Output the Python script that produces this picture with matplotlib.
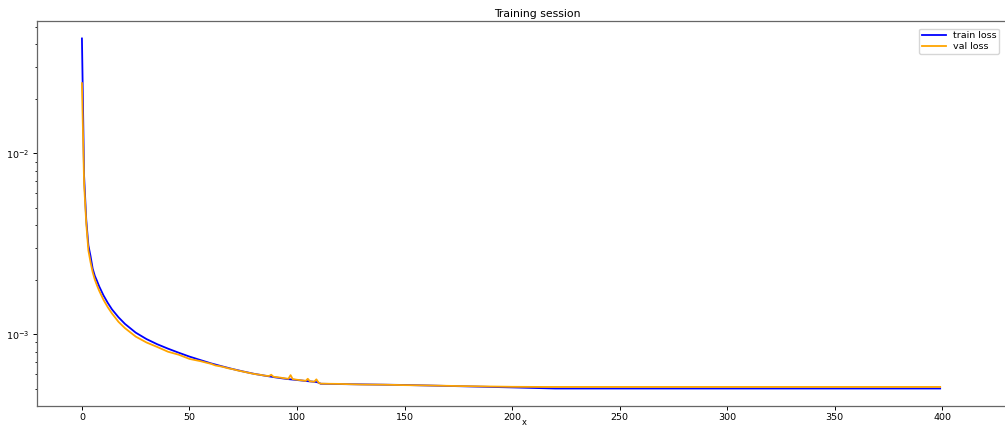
'''Training vs validation loss, log scale
'''
import numpy as np
import matplotlib.pyplot as plt
from matplotlib.ticker import MultipleLocator

train_epochs = [0, 1, 2, 3, 4, 5, 6, 7, 8, 10, 12, 14, 17, 20, 25, 30, 35, 40, 45,
                50, 55, 60, 65, 70, 75, 80, 85, 90, 95, 100, 105, 109, 110, 111,
                120, 150, 175, 200, 220, 399]
train_loss = [0.0431, 0.0075, 0.0043, 0.0031, 0.0027, 0.0023, 0.0021, 0.00197, 0.00184,
              0.00164, 0.00149, 0.00137, 0.00124, 0.00114, 0.00102, 0.00094, 0.00088,
              0.000832, 0.000790, 0.000752, 0.000720, 0.000690, 0.000665, 0.000642,
              0.000622, 0.000604, 0.000590, 0.000577, 0.000566, 0.000558, 0.000550,
              0.000544, 0.000540, 0.000532, 0.000530, 0.000524, 0.000516, 0.000508,
              0.000501, 0.000501]

val_epochs = [0, 1, 2, 3, 4, 5, 6, 7, 8, 10, 12, 14, 17, 20, 25, 30, 35, 40, 45,
              50, 55, 58, 60, 62, 65, 68, 70, 73, 75, 78, 80, 83, 85, 87, 88, 89,
              92, 94, 96, 97, 98, 100, 102, 104, 105, 106, 108, 109, 110, 111,
              115, 120, 130, 140, 150, 160, 175, 190, 200, 215, 399]
val_loss = [0.0244, 0.0068, 0.0041, 0.0029, 0.0025, 0.0022, 0.0020, 0.00186, 0.00174,
            0.00155, 0.00141, 0.00130, 0.00117, 0.00108, 0.00097, 0.00090, 0.00085,
            0.00080, 0.00077, 0.00073, 0.000710, 0.000695, 0.000686, 0.000672,
            0.000662, 0.000648, 0.000641, 0.000628, 0.000621, 0.000610, 0.000603,
            0.000596, 0.000590, 0.000587, 0.000597, 0.000582, 0.000576, 0.000571,
            0.000567, 0.000594, 0.000564, 0.000560, 0.000556, 0.000552, 0.000567,
            0.000549, 0.000546, 0.000563, 0.000540, 0.000533, 0.000532, 0.000531,
            0.000527, 0.000526, 0.000523, 0.000521, 0.000517, 0.000514, 0.000512,
            0.000511, 0.000511]


def plot_losses(path='out.png'):
    fig = plt.figure(figsize=(10.05, 4.25), dpi=100)
    # the original is cropped on the right, so the axes runs past the edge
    ax = fig.add_axes([0.0368, 0.0447, 0.995, 0.906])
    ax.plot(train_epochs, train_loss, color='blue', lw=1.3, label='train loss')
    ax.plot(val_epochs, val_loss, color='orange', lw=1.3, label='val loss')
    ax.set_yscale('log')
    ax.set_xlim(-20.9, 444)
    ax.xaxis.set_major_locator(MultipleLocator(50))
    ax.set_title('Training session', fontsize=7.8, pad=3)
    ax.set_xlabel('x', fontsize=6)
    # pulled up a bit so it stays inside the picture
    ax.xaxis.set_label_coords(0.487, -0.03)
    ax.tick_params(labelsize=6.8, length=2.8, width=0.7, pad=2.5)
    ax.tick_params(which='minor', length=1.6, width=0.6)
    for s in ax.spines.values():
        s.set_color('#666666')
        s.set_linewidth(0.9)
    ax.legend(loc='upper right', bbox_to_anchor=(0.999, 0.944),
              bbox_transform=fig.transFigure, fontsize=6.8, handlelength=2.6,
              borderpad=0.3, labelspacing=0.2, handletextpad=0.7, fancybox=True)
    fig.savefig(path, dpi=100)


if __name__ == '__main__':
    plot_losses()
